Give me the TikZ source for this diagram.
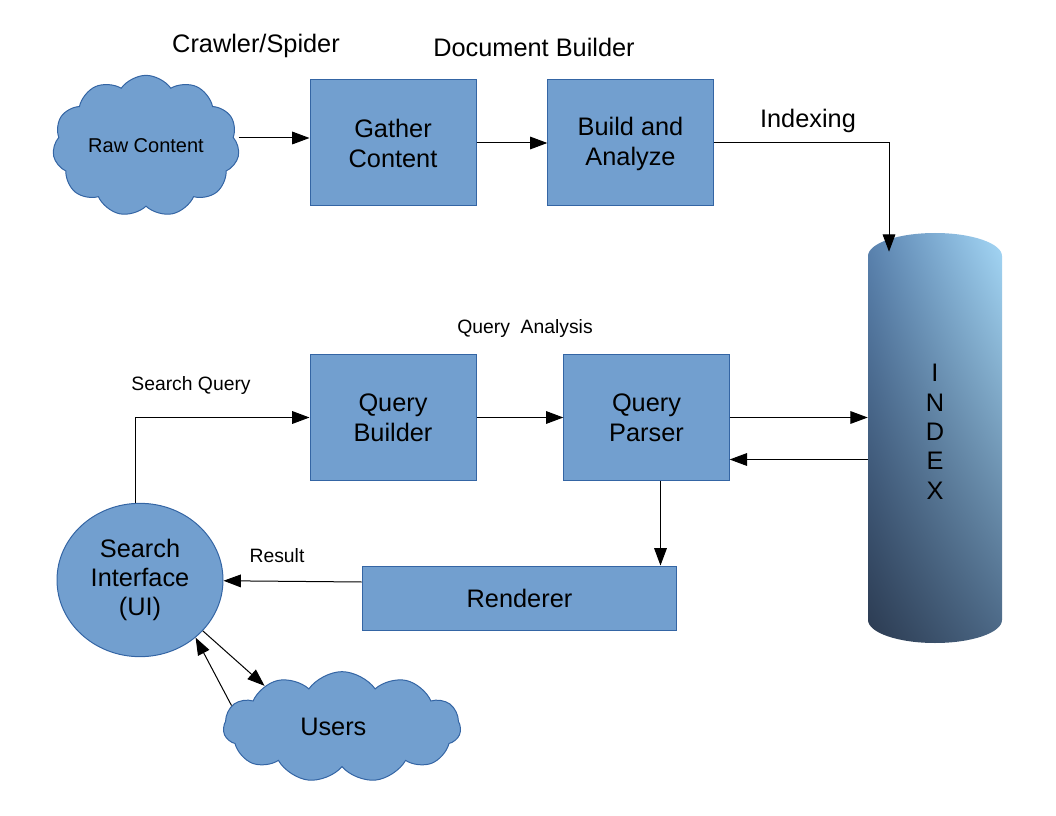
\documentclass[tikz,border=0pt]{standalone}
\usepackage{fontspec}
\setmainfont{Liberation Sans}
\usetikzlibrary{arrows.meta,positioning,shapes.geometric,shapes.symbols,shadings}

\definecolor{boxblue}{HTML}{729FCF}
\definecolor{boxline}{HTML}{3465A4}
\definecolor{idxul}{HTML}{5A83B0}
\definecolor{idxur}{HTML}{A5D8F7}
\definecolor{idxll}{HTML}{2B3A50}
\definecolor{idxlr}{HTML}{4A6684}

\begin{document}
\begin{tikzpicture}[
        x=0.75pt, y=-0.75pt,
        box/.style={rectangle, draw=boxline, fill=boxblue, line width=0.75pt, inner sep=0pt, align=center, font=\fontsize{19}{22.5}\selectfont},
        puff/.style={cloud, cloud puffs=11, cloud puff arc=110, cloud ignores aspect, draw=boxline, fill=boxblue, line width=0.75pt, inner sep=0pt, align=center},
        arrow/.style={-{Triangle[length=13pt,width=9.5pt]}, line width=0.75pt},
        biglabel/.style={font=\fontsize{19}{22.5}\selectfont},
        smalllabel/.style={font=\fontsize{14.5}{17}\selectfont}
    ]
        \useasboundingbox (0,0) rectangle (1056,816);

        % Nodes
        \node[puff, minimum width=140pt, minimum height=106pt, font=\fontsize{15}{18}\selectfont] (raw) at (146,146) {Raw Content};
        \node[box, minimum width=124.5pt, minimum height=94.5pt] (gather) at (393,143) {Gather\\Content};
        \node[box, minimum width=124pt, minimum height=94.5pt] (build) at (630.5,143) {\strut Build and\\Analyze};
        \node[cylinder, shape border rotate=90, aspect=1.7, minimum width=100.5pt, minimum height=307.5pt, anchor=shape center,
              lower left=idxll, upper left=idxul, upper right=idxur, lower right=idxlr,
              align=center, font=\fontsize{19}{22}\selectfont] (index) at (935,438) {I\\N\\D\\E\\X\\[11pt]\mbox{}};
        \node[box, minimum width=124.5pt, minimum height=95pt] (qbuilder) at (393,417.5) {Query\\Builder};
        \node[box, minimum width=124pt, minimum height=95pt] (qparser) at (646.5,417.5) {Query\\Parser};
        \node[box, minimum width=236pt, minimum height=48pt] (renderer) at (519.5,598) {Renderer};
        \node[ellipse, draw=boxline, fill=boxblue, line width=0.75pt, inner sep=0pt, minimum width=124.5pt, minimum height=115pt,
              align=center, font=\fontsize{19}{22}\selectfont] (ui) at (140,580) {Search\\Interface\\(UI)};
        \node[puff, minimum width=178pt, minimum height=83pt, font=\fontsize{19}{22}\selectfont] (users) at (342,727) {Users\hspace{13pt}};

        % Labels
        \node[biglabel] (crawler) at (256,46) {Crawler/Spider};
        \node[biglabel] (docbuilder) at (534,47) {Document Builder};
        \node[biglabel] (indexing) at (808,121) {Indexing};
        \node[smalllabel] (qanalysis) at (525,329) {Query\ \ Analysis};
        \node[smalllabel] (squery) at (191,386) {Search Query};
        \node[smalllabel] (result) at (277,556) {Result};

        % Arrows
        \coordinate (gin) at ([shift={(0,-5)}]gather.west);
        \draw[arrow] (raw.east |- gin) -- (gin);
        \draw[arrow] (gather) -- (build);
        \coordinate (idxtop) at ([shift={(-46,19)}]index.top);
        \draw[arrow] (build.east) -| (idxtop);
        \draw[arrow] ([shift={(-5,0)}]ui.north) |- (qbuilder.west);
        \draw[arrow] (qbuilder) -- (qparser);
        \draw[arrow] (qparser.east) -- (qparser.east -| index.west);
        \coordinate (idxret) at ([shift={(0,42)}]qparser.east);
        \draw[arrow] (idxret -| index.west) -- (idxret);
        \coordinate (pdown) at ([shift={(14,0)}]qparser.south);
        \draw[arrow] (pdown) -- (pdown |- renderer.north);
        \draw[arrow] ([shift={(0,-16)}]renderer.west) -- (ui);
        \draw[arrow] (ui.-39) -- (users.152);
        \draw[arrow] (users.169) -- (ui.-46);
    \end{tikzpicture}
\end{document}
